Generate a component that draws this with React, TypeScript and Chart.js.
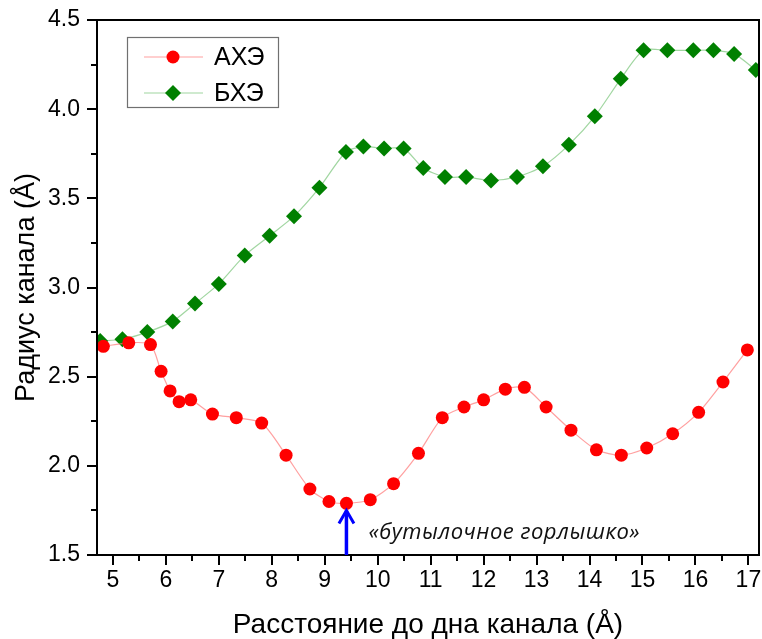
import React, { useEffect, useRef } from "react";
import { Chart, registerables } from "chart.js";

Chart.register(...registerables);

// ---- Data ----
const ACHE_X = [4.82, 5.3, 5.71, 5.91, 6.08, 6.25, 6.47, 6.88, 7.33, 7.81, 8.27, 8.72, 9.08, 9.41, 9.86, 10.3, 10.77, 11.22, 11.63, 12.0, 12.41, 12.77, 13.18, 13.65, 14.13, 14.6, 15.08, 15.57, 16.06, 16.52, 16.98];
const ACHE_Y = [2.67, 2.69, 2.68, 2.53, 2.42, 2.36, 2.37, 2.29, 2.27, 2.24, 2.06, 1.87, 1.8, 1.79, 1.81, 1.9, 2.07, 2.27, 2.33, 2.37, 2.43, 2.44, 2.33, 2.2, 2.09, 2.06, 2.1, 2.18, 2.3, 2.47, 2.65];
const BCHE_X = [4.76, 5.18, 5.65, 6.13, 6.55, 7.0, 7.49, 7.96, 8.42, 8.9, 9.4, 9.73, 10.12, 10.49, 10.86, 11.27, 11.67, 12.14, 12.63, 13.12, 13.61, 14.1, 14.59, 15.02, 15.47, 15.96, 16.34, 16.73, 17.14];
const BCHE_Y = [2.7, 2.71, 2.75, 2.81, 2.91, 3.02, 3.18, 3.29, 3.4, 3.56, 3.76, 3.79, 3.78, 3.78, 3.67, 3.62, 3.62, 3.6, 3.62, 3.68, 3.8, 3.96, 4.17, 4.33, 4.33, 4.33, 4.33, 4.31, 4.22];
const SERIES_NAMES = ["АХЭ", "БХЭ"];
const X_TICKS = [5, 6, 7, 8, 9, 10, 11, 12, 13, 14, 15, 16, 17];
const Y_TICKS = [1.5, 2.0, 2.5, 3.0, 3.5, 4.0, 4.5];
const X_MIN = 4.7;
const X_MAX = 17.2;
const Y_MIN = 1.5;
const Y_MAX = 4.5;
const X_TITLE = "Расстояние до дна канала (Å)";
const Y_TITLE = "Радиус канала (Å)";
const BOTTLENECK_X = 9.41;
const BOTTLENECK_TIP_Y = 1.755;
const BOTTLENECK_LABEL = "«бутылочное горлышко»";

const SANS = "'Liberation Sans', Arial, sans-serif";

const framePlugin = {
  id: "frameTicks",
  afterDraw(chart: any) {
    const { ctx, chartArea, scales } = chart;
    const xs = scales.x;
    const ys = scales.y;
    const { left, right, top, bottom } = chartArea;
    ctx.save();
    ctx.strokeStyle = "#000";
    ctx.lineWidth = 2;
    ctx.strokeRect(left, top, right - left, bottom - top);
    // ticks
    ctx.beginPath();
    for (let v = 4.5; v <= X_MAX + 1e-9; v += 0.5) {
      if (v < X_MIN) continue;
      const px = Math.round(xs.getPixelForValue(v));
      const major = Math.abs(v - Math.round(v)) < 1e-6;
      ctx.moveTo(px, bottom);
      ctx.lineTo(px, bottom + (major ? 10 : 6));
    }
    for (let v = Y_MIN; v <= Y_MAX + 1e-9; v += 0.25) {
      const py = Math.round(ys.getPixelForValue(v));
      const major = Math.abs(v * 2 - Math.round(v * 2)) < 1e-6;
      ctx.moveTo(left, py);
      ctx.lineTo(left - (major ? 10 : 6), py);
    }
    ctx.stroke();

    // bottleneck arrow
    const ax = xs.getPixelForValue(BOTTLENECK_X);
    const ay0 = ys.getPixelForValue(Y_MIN);
    const ay1 = ys.getPixelForValue(BOTTLENECK_TIP_Y);
    ctx.strokeStyle = "#0000ff";
    ctx.lineWidth = 3.5;
    ctx.lineCap = "butt";
    ctx.beginPath();
    ctx.moveTo(ax, ay0);
    ctx.lineTo(ax, ay1 + 1);
    ctx.stroke();
    ctx.lineWidth = 3;
    ctx.beginPath();
    ctx.moveTo(ax - 7.5, ay1 + 14);
    ctx.lineTo(ax, ay1 + 1);
    ctx.lineTo(ax + 7.5, ay1 + 14);
    ctx.stroke();
    ctx.fillStyle = "#111";
    ctx.font = "italic 22px 'Open Sans', sans-serif";
    try {
      (ctx as any).letterSpacing = "0.5px";
    } catch (e) {}
    ctx.textAlign = "left";
    ctx.textBaseline = "alphabetic";
    ctx.fillText(BOTTLENECK_LABEL, ax + 22, ay0 - 16);
    try {
      (ctx as any).letterSpacing = "0px";
    } catch (e) {}

    // legend
    const bx = 127.5, by = 37.5, bw = 151, bh = 70;
    ctx.strokeStyle = "#707070";
    ctx.lineWidth = 1.2;
    ctx.strokeRect(bx, by, bw, bh);
    const rows = [57, 93];
    chart.data.datasets.forEach((ds: any, i: number) => {
      const y = rows[i];
      ctx.strokeStyle = ds.borderColor;
      ctx.lineWidth = ds.borderWidth;
      ctx.beginPath();
      ctx.moveTo(144, y);
      ctx.lineTo(203, y);
      ctx.stroke();
      ctx.fillStyle = ds.pointBackgroundColor;
      ctx.beginPath();
      if (ds.pointStyle === "rectRot") {
        const r = ds.pointRadius;
        ctx.moveTo(173 - r, y);
        ctx.lineTo(173, y - r);
        ctx.lineTo(173 + r, y);
        ctx.lineTo(173, y + r);
        ctx.closePath();
      } else {
        ctx.arc(173, y, ds.pointRadius, 0, Math.PI * 2);
      }
      ctx.fill();
      ctx.fillStyle = "#000";
      ctx.font = `25px ${SANS}`;
      ctx.textAlign = "left";
      ctx.textBaseline = "middle";
      ctx.fillText(ds.label, 214, y + 1);
    });
    ctx.restore();
  },
};

export default function App() {
  const ref = useRef<HTMLCanvasElement | null>(null);
  useEffect(() => {
    if (!ref.current) return;
    const chart = new Chart(ref.current, {
      type: "scatter",
      data: {
        datasets: [
          {
            label: SERIES_NAMES[0],
            data: ACHE_X.map((x, i) => ({ x, y: ACHE_Y[i] })),
            showLine: true,
            borderColor: "rgba(255,120,120,0.7)",
            borderWidth: 1.2,
            pointBackgroundColor: "#ff0000",
            pointBorderColor: "#ff0000",
            pointBorderWidth: 0,
            pointRadius: 6.5,
            pointStyle: "circle",
            tension: 0.25,
          },
          {
            label: SERIES_NAMES[1],
            data: BCHE_X.map((x, i) => ({ x, y: BCHE_Y[i] })),
            showLine: true,
            borderColor: "rgba(130,200,130,0.75)",
            borderWidth: 1.2,
            pointBackgroundColor: "#008000",
            pointBorderColor: "#008000",
            pointBorderWidth: 0,
            pointRadius: 8,
            pointStyle: "rectRot",
            tension: 0.25,
          },
        ],
      },
      options: {
        responsive: false,
        animation: false,
        devicePixelRatio: 1,
        layout: { autoPadding: false, padding: { top: 20, right: 3, left: 0, bottom: 0 } },
        plugins: { legend: { display: false }, tooltip: { enabled: false } },
        scales: {
          x: {
            type: "linear",
            min: X_MIN,
            max: X_MAX,
            grid: { display: false, drawTicks: false },
            border: { display: false },
            afterBuildTicks: (s: any) => {
              s.ticks = X_TICKS.map((v) => ({ value: v }));
            },
            afterFit: (s: any) => {
              s.height = 84;
              s.paddingLeft = 0;
              s.paddingRight = 0;
            },
            ticks: {
              padding: 12,
              color: "#000",
              font: { family: SANS, size: 23 },
              maxRotation: 0,
              autoSkip: false,
              callback: (v: any) => String(v),
            },
            title: {
              display: true,
              text: X_TITLE,
              color: "#000",
              font: { family: SANS, size: 28, lineHeight: 1.0 },
              padding: { top: 0, bottom: 0 },
            },
          },
          y: {
            type: "linear",
            min: Y_MIN,
            max: Y_MAX,
            grid: { display: false, drawTicks: false },
            border: { display: false },
            afterBuildTicks: (s: any) => {
              s.ticks = Y_TICKS.map((v) => ({ value: v }));
            },
            afterFit: (s: any) => {
              s.width = 97;
              s.paddingTop = 0;
              s.paddingBottom = 0;
            },
            ticks: {
              padding: 17,
              color: "#000",
              font: { family: SANS, size: 23 },
              autoSkip: false,
              callback: (v: any) => Number(v).toFixed(1),
            },
            title: {
              display: true,
              text: Y_TITLE,
              color: "#000",
              font: { family: SANS, size: 27 },
              padding: { top: 10, bottom: 0 },
            },
          },
        },
      },
      plugins: [framePlugin],
    });
    return () => chart.destroy();
  }, []);
  return (
    <div style={{ position: "absolute", left: 0, top: 0, width: 762, height: 639, background: "#fff" }}>
      <canvas ref={ref} width={762} height={639} style={{ width: 762, height: 639, display: "block" }} />
    </div>
  );
}
